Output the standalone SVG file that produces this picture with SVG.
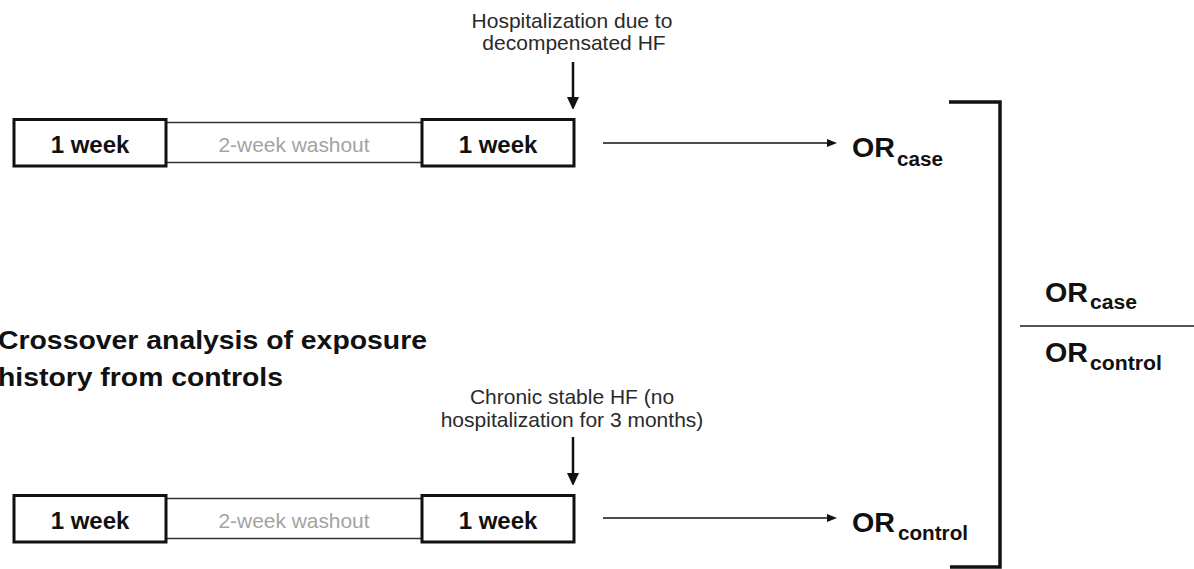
<svg xmlns="http://www.w3.org/2000/svg" width="1194" height="569" viewBox="0 0 1194 569">
  <style>
    .bg { fill: #ffffff; }
    .week { fill: #ffffff; stroke: #111111; stroke-width: 3; }
    .washout { fill: #ffffff; stroke: #333333; stroke-width: 1.5; }
    .wk { font-family: "Liberation Sans", Arial, sans-serif; font-weight: bold; font-size: 24px; fill: #111111; text-anchor: middle; }
    .wash { font-family: "Liberation Sans", Arial, sans-serif; font-size: 21px; fill: #a3a3a3; text-anchor: middle; }
    .note { font-family: "Liberation Sans", Arial, sans-serif; font-size: 21px; fill: #2a2a2a; text-anchor: middle; }
    .title { font-family: "Liberation Sans", Arial, sans-serif; font-weight: bold; font-size: 26px; fill: #111111; }
    .or { font-family: "Liberation Sans", Arial, sans-serif; font-weight: bold; font-size: 27px; fill: #111111; }
    .sub { font-family: "Liberation Sans", Arial, sans-serif; font-weight: bold; font-size: 20px; fill: #111111; }
    .event { stroke: #111111; stroke-width: 2.5; fill: none; }
    .flow { stroke: #111111; stroke-width: 1.5; fill: none; }
    .bracket { stroke: #111111; stroke-width: 3.5; fill: none; }
    .frac { stroke: #555555; stroke-width: 2; }
  </style>
  <defs>
    <marker id="headBig" viewBox="0 0 12 14" refX="2" refY="6" markerWidth="12" markerHeight="14" markerUnits="userSpaceOnUse" orient="auto">
      <path d="M0,0 L13,6 L0,12 z" fill="#111111"/>
    </marker>
    <marker id="headSmall" viewBox="0 0 10 8" refX="2" refY="4" markerWidth="10" markerHeight="8" markerUnits="userSpaceOnUse" orient="auto">
      <path d="M0,0 L10,4 L0,8 z" fill="#111111"/>
    </marker>
  </defs>

  <rect class="bg" x="0" y="0" width="1194" height="569"/>

  <!-- Case timeline -->
  <g id="case-washout">
    <rect class="washout" x="166" y="122.5" width="256" height="40"/>
    <text class="wash" x="294" y="152" textLength="151" lengthAdjust="spacingAndGlyphs">2-week washout</text>
  </g>
  <g id="case-week1">
    <rect class="week" x="14" y="119.5" width="152" height="46.5"/>
    <text class="wk" x="90" y="153">1 week</text>
  </g>
  <g id="case-week2">
    <rect class="week" x="422" y="119.5" width="152" height="46.5"/>
    <text class="wk" x="498" y="153">1 week</text>
  </g>
  <g id="case-event">
    <text class="note" x="572" y="28">Hospitalization due to</text>
    <text class="note" x="574" y="50">decompensated HF</text>
  </g>
  <g id="or-case">
    <text x="852" y="157"><tspan class="or" textLength="43" lengthAdjust="spacingAndGlyphs">OR</tspan><tspan class="sub" x="897" y="166" textLength="46" lengthAdjust="spacingAndGlyphs">case</tspan></text>
  </g>

  <!-- Control timeline -->
  <g id="title">
    <text class="title" x="-2" y="349" textLength="429" lengthAdjust="spacingAndGlyphs">Crossover analysis of exposure</text>
    <text class="title" x="-2" y="386" textLength="285" lengthAdjust="spacingAndGlyphs">history from controls</text>
  </g>
  <g id="control-washout">
    <rect class="washout" x="166" y="498.5" width="256" height="40"/>
    <text class="wash" x="294" y="528" textLength="151" lengthAdjust="spacingAndGlyphs">2-week washout</text>
  </g>
  <g id="control-week1">
    <rect class="week" x="14" y="495.5" width="152" height="46.5"/>
    <text class="wk" x="90" y="529">1 week</text>
  </g>
  <g id="control-week2">
    <rect class="week" x="422" y="495.5" width="152" height="46.5"/>
    <text class="wk" x="498" y="529">1 week</text>
  </g>
  <g id="control-event">
    <text class="note" x="572" y="404">Chronic stable HF (no</text>
    <text class="note" x="572" y="427">hospitalization for 3 months)</text>
  </g>
  <g id="or-control">
    <text x="852" y="532"><tspan class="or" textLength="43" lengthAdjust="spacingAndGlyphs">OR</tspan><tspan class="sub" x="898" y="540" textLength="70" lengthAdjust="spacingAndGlyphs">control</tspan></text>
  </g>

  <!-- Ratio of the two odds ratios -->
  <g id="ratio">
    <text x="1045" y="302"><tspan class="or" textLength="43" lengthAdjust="spacingAndGlyphs">OR</tspan><tspan class="sub" x="1090" y="309" textLength="47" lengthAdjust="spacingAndGlyphs">case</tspan></text>
    <line class="frac" x1="1020" y1="326" x2="1194" y2="326"/>
    <text x="1045" y="362"><tspan class="or" textLength="43" lengthAdjust="spacingAndGlyphs">OR</tspan><tspan class="sub" x="1090" y="370" textLength="72" lengthAdjust="spacingAndGlyphs">control</tspan></text>
  </g>

  <!-- Connectors -->
  <g id="connectors">
    <line class="event" x1="573" y1="62" x2="573" y2="99" marker-end="url(#headBig)"/>
    <line class="event" x1="573" y1="437" x2="573" y2="475" marker-end="url(#headBig)"/>
    <line class="flow" x1="603" y1="143" x2="829" y2="143" marker-end="url(#headSmall)"/>
    <line class="flow" x1="603" y1="518" x2="829" y2="518" marker-end="url(#headSmall)"/>
    <path class="bracket" d="M949,102 H1000 V567 H950"/>
  </g>
</svg>
